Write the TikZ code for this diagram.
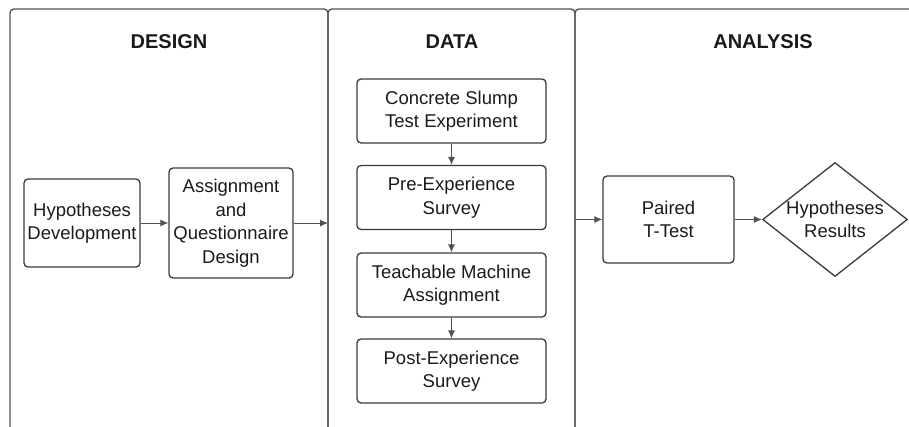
\documentclass[tikz,border=0pt]{standalone}
\usepackage{fontspec}
\setmainfont{Liberation Sans}
\usetikzlibrary{shapes.geometric,arrows.meta}
\definecolor{edge}{HTML}{3A3A3A}
\definecolor{panelline}{HTML}{555555}
\definecolor{flow}{HTML}{4A5160}
\definecolor{ink}{HTML}{1A1A1A}
\tikzset{
  stepbox/.style={draw=edge, line width=1.3pt, rounded corners=4pt, align=center,
    inner sep=0pt, text=ink, font=\fontsize{18.5}{23.5}\selectfont},
  decision/.style={draw=edge, line width=1.3pt, diamond, aspect=1.27, inner sep=0pt,
    align=center, text=ink, font=\fontsize{18.5}{23.5}\selectfont},
  heading/.style={text=ink, font=\bfseries\fontsize{20}{24}\selectfont},
  panel/.style={draw=panelline, line width=1.4pt, rounded corners=4pt},
  flowarrow/.style={draw=flow, line width=0.9pt, -{Latex[length=8pt,width=7pt]}},
}
\begin{document}
\begin{tikzpicture}[x=1pt,y=-1pt]
\useasboundingbox (0,0) rectangle (909,426);
% swimlane panels, open at the bottom
\draw[panel] (10,430) -- (10,9) -- (328,9) -- (328,430);
\draw[panel] (328,430) -- (328,9) -- (575,9) -- (575,430);
\draw[panel] (575,430) -- (575,9) -- (912,9);
% lane headings
\node[heading] (hdesign) at (169,42) {DESIGN};
\node[heading] (hdata) at (452,42) {DATA};
\node[heading] (hanalysis) at (763,42) {ANALYSIS};
% design lane
\node[stepbox, minimum width=116pt, minimum height=88pt] (hyp) at (82,223) {Hypotheses\\Development};
\node[stepbox, minimum width=124pt, minimum height=110pt] (assign) at (231,223) {Assignment\\and\\Questionnaire\\Design};
% data lane
\node[stepbox, minimum width=189pt, minimum height=64pt] (slump) at (451.5,111) {Concrete Slump\\Test Experiment};
\node[stepbox, minimum width=189pt, minimum height=64pt] (pre) at (451.5,197.5) {Pre-Experience\\Survey};
\node[stepbox, minimum width=189pt, minimum height=64pt] (teach) at (451.5,285) {Teachable Machine\\Assignment};
\node[stepbox, minimum width=189pt, minimum height=64pt] (post) at (451.5,371) {Post-Experience\\Survey};
% analysis lane
\node[stepbox, minimum width=131pt, minimum height=87pt] (ttest) at (668.5,219.5) {Paired\\T-Test};
\node[decision, minimum width=144pt] (results) at (835,219.5) {Hypotheses\\Results};
% lane boundary points
\coordinate (designout) at (328,223);
\coordinate (analysisin) at (575,219.5);
% connectors
\draw[flowarrow] (hyp) -- (assign);
\draw[flowarrow] (assign) -- (designout);
\draw[flowarrow] (slump) -- (pre);
\draw[flowarrow] (pre) -- (teach);
\draw[flowarrow] (teach) -- (post);
\draw[flowarrow] (analysisin) -- (ttest);
\draw[flowarrow] (ttest) -- (results);
\end{tikzpicture}
\end{document}
